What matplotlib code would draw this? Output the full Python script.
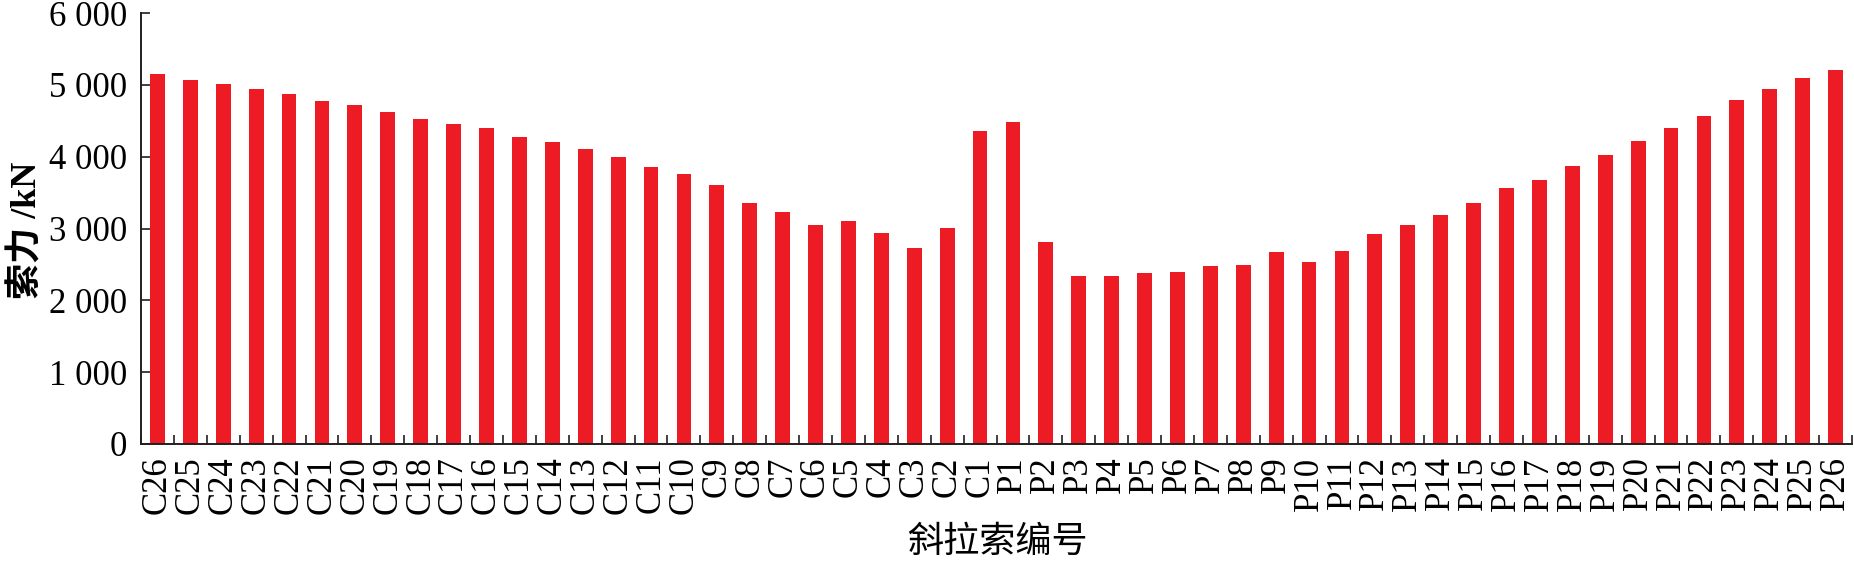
import numpy as np
import matplotlib.pyplot as plt
from matplotlib.ticker import FuncFormatter, FixedLocator

# cable labels, left (C26..C1) then right (P1..P26)
cables = [f"C{i}" for i in range(26, 0, -1)] + [f"P{i}" for i in range(1, 27)]

c_force = [5150, 5068, 5012, 4943, 4873, 4776, 4720, 4623, 4525, 4456,
           4400, 4275, 4205, 4108, 3997, 3858, 3760, 3607, 3357, 3232,
           3051, 3107, 2940, 2731, 3009, 4359]
p_force = [4484, 2814, 2342, 2342, 2383, 2397, 2481, 2495, 2675, 2536,
           2689, 2926, 3051, 3190, 3357, 3566, 3677, 3872, 4025, 4219,
           4400, 4567, 4790, 4943, 5096, 5207]
force = c_force + p_force

yticks = [0, 1000, 2000, 3000, 4000, 5000, 6000]

serif = ["Liberation Serif", "DejaVu Serif"]
mixed = ["Liberation Serif", "Noto Sans CJK SC", "DejaVu Sans"]
cjk = ["Noto Sans CJK SC", "DejaVu Sans"]


def thousands(v, pos):
    v = int(round(v))
    if v < 1000:
        return str(v)
    return f"{v // 1000} {v % 1000:03d}"


fig = plt.figure(figsize=(18.54, 5.67), dpi=100)
ax = fig.add_axes([141 / 1854, 1 - 444 / 567, (1852 - 141) / 1854, (444 - 13) / 567])

x = np.arange(len(cables))
ax.bar(x, force, width=0.45, color="#ED1C24", zorder=2)

ax.set_xlim(-0.5, len(cables) - 0.5)
ax.set_ylim(0, 6000)
ax.set_yticks(yticks)
ax.yaxis.set_major_formatter(FuncFormatter(thousands))

ax.set_xticks(x)
ax.set_xticklabels(cables, rotation=90, fontfamily=serif, fontsize=25)
ax.xaxis.set_minor_locator(FixedLocator(np.arange(len(cables) + 1) - 0.5))
ax.tick_params(axis="x", which="major", length=0, pad=9)
ax.tick_params(axis="x", which="minor", direction="in", length=6.5, width=1.2, color="#231f20")
ax.tick_params(axis="y", direction="in", length=6.5, width=1.2, pad=10, color="#231f20")
for lab in ax.get_yticklabels():
    lab.set_fontfamily(serif)
    lab.set_fontsize(25)

for s in ["top", "right"]:
    ax.spines[s].set_visible(False)
for s in ["left", "bottom"]:
    ax.spines[s].set_linewidth(1.4)
    ax.spines[s].set_color("#231f20")

fig.text(27 / 1854, 1 - 230 / 567, "索力 /kN", rotation=90, ha="center", va="center",
         fontsize=26, family=mixed, fontweight="bold")
fig.text(997 / 1854, 1 - 542 / 567, "斜拉索编号", ha="center", va="center",
         fontsize=26, family=cjk)

fig.savefig("out.png", dpi=100)
